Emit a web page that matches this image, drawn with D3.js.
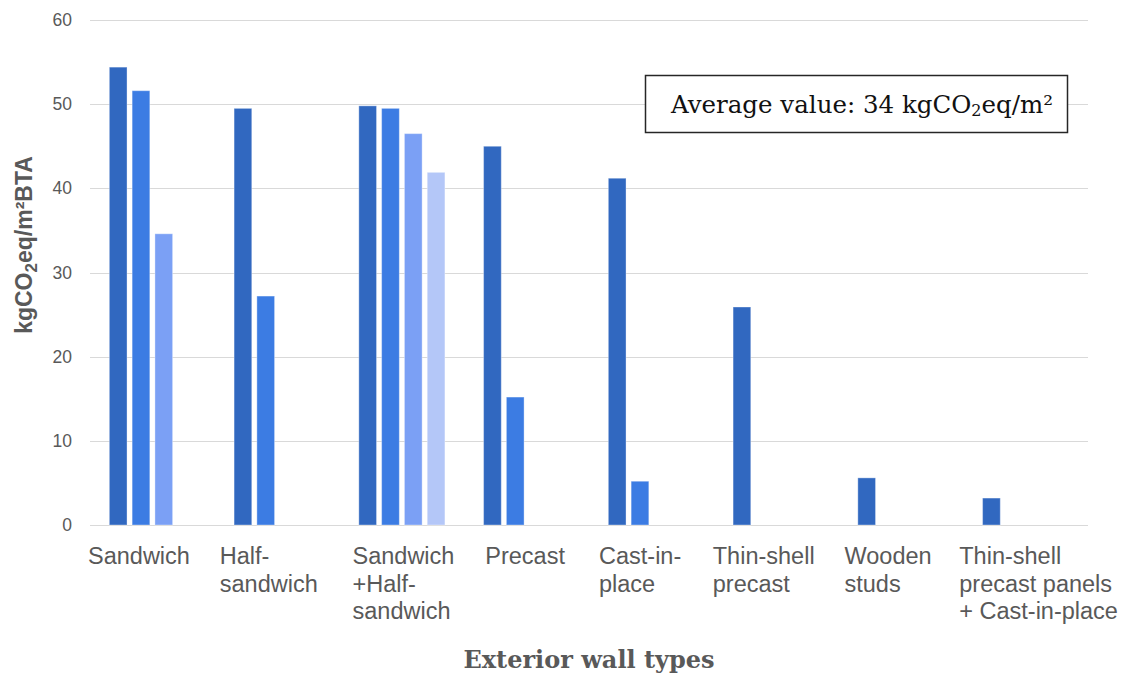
<!DOCTYPE html>
<html>
<head>
<meta charset="utf-8">
<script src="https://cdn.jsdelivr.net/npm/d3@7/dist/d3.min.js"></script>
<style>
  html, body { margin: 0; padding: 0; background: #ffffff; }
  svg { display: block; }
</style>
</head>
<body>
<svg id="chart" width="1125" height="673"></svg>
<script>
// Wall type categories and the text lines used for each axis label
const categories = ["Sandwich", "Half-sandwich", "Sandwich+Half-sandwich", "Precast",
  "Cast-in-place", "Thin-shell precast", "Wooden studs", "Thin-shell precast panels + Cast-in-place"];
const categoryLines = [
  ["Sandwich"],
  ["Half-", "sandwich"],
  ["Sandwich", "+Half-", "sandwich"],
  ["Precast"],
  ["Cast-in-", "place"],
  ["Thin-shell", "precast"],
  ["Wooden", "studs"],
  ["Thin-shell", "precast panels", "+ Cast-in-place"]
];

// Embodied carbon per project, kgCO2eq/m² BTA (null = no project in that slot)
const series1 = [54.4, 49.5, 49.8, 45.0, 41.2, 25.9, 5.6, 3.2];
const series2 = [51.6, 27.2, 49.5, 15.2, 5.2, null, null, null];
const series3 = [34.6, null, 46.5, null, null, null, null, null];
const series4 = [null, null, 41.9, null, null, null, null, null];

const yTicks = [0, 10, 20, 30, 40, 50, 60];
const averageValue = 34;

// ---- layout ----
const W = 1125, H = 673;
const margin = { top: 20, right: 37, bottom: 148, left: 90 };
const seriesColors = ["#3168c0", "#3c7ce3", "#7ba0f5", "#b4c7f8"];
const textGray = "#595959";
// horizontal nudge of each category label from the start of its band
const labelNudge = [-2, 5, 13, 21, 10, -1, 6, -4];

const svg = d3.select("#chart");
const plotW = W - margin.left - margin.right;
const plotH = H - margin.top - margin.bottom;
const g = svg.append("g").attr("transform", `translate(${margin.left},${margin.top})`);

const x0 = d3.scaleBand().domain(categories).range([0, plotW]).paddingInner(0).paddingOuter(0);
const x1 = d3.scaleBand().domain([0, 1, 2, 3]).range([0, x0.bandwidth()])
  .paddingInner(0.224).paddingOuter(0.848);
const y = d3.scaleLinear().domain([0, 60]).range([plotH, 0]);

// gridlines
g.append("g").selectAll("line").data(yTicks).join("line")
  .attr("x1", 0).attr("x2", plotW)
  .attr("y1", d => Math.round(y(d)) + 0.5).attr("y2", d => Math.round(y(d)) + 0.5)
  .attr("stroke", "#d9d9d9").attr("stroke-width", 1);

// y axis tick labels
const yAxis = g.append("g").call(d3.axisLeft(y).tickValues(yTicks).tickSize(0).tickPadding(18));
yAxis.select(".domain").remove();
yAxis.selectAll("text")
  .attr("fill", textGray)
  .style("font-family", "'Liberation Sans', Arial, sans-serif")
  .style("font-size", "17.5px");

// bars
const allSeries = [series1, series2, series3, series4];
const barData = [];
allSeries.forEach((s, si) => s.forEach((v, ci) => {
  if (v !== null) barData.push({ cat: categories[ci], si, v });
}));
g.append("g").selectAll("rect").data(barData).join("rect")
  .attr("x", d => x0(d.cat) + x1(d.si))
  .attr("width", x1.bandwidth())
  .attr("y", d => y(d.v))
  .attr("height", d => y(0) - y(d.v))
  .attr("fill", d => seriesColors[d.si])
  .attr("stroke", "#ffffff").attr("stroke-opacity", 0.35).attr("stroke-width", 1);

// category labels (multi-line, left aligned)
const labels = g.append("g").selectAll("text").data(categories).join("text")
  .attr("x", (d, i) => x0(d) + labelNudge[i])
  .attr("y", plotH + 39)
  .attr("fill", textGray)
  .style("font-family", "'Liberation Sans', Arial, sans-serif")
  .style("font-size", "23.5px");
labels.each(function (d, i) {
  const t = d3.select(this);
  categoryLines[i].forEach((line, li) => {
    t.append("tspan").attr("x", x0(d) + labelNudge[i]).attr("dy", li === 0 ? 0 : 27.5).text(line);
  });
});

// y axis title
const yTitle = svg.append("text")
  .attr("transform", `translate(32,245) rotate(-90)`)
  .attr("text-anchor", "middle")
  .attr("fill", textGray)
  .style("font-family", "'Liberation Sans', Arial, sans-serif")
  .style("font-weight", "bold")
  .style("font-size", "23px");
yTitle.append("tspan").text("kgCO");
yTitle.append("tspan").attr("dy", 5).style("font-size", "17px").text("2");
yTitle.append("tspan").attr("dy", -5).text("eq/m²BTA");

// x axis title
svg.append("text")
  .attr("x", 589).attr("y", 668)
  .attr("text-anchor", "middle")
  .attr("fill", textGray)
  .style("font-family", "'DejaVu Serif', serif")
  .style("font-weight", "bold")
  .style("font-size", "24px")
  .text("Exterior wall types");

// average value note
const note = svg.append("g");
note.append("rect")
  .attr("x", 645.5).attr("y", 75.5).attr("width", 422).attr("height", 57)
  .attr("fill", "#ffffff").attr("stroke", "#262626").attr("stroke-width", 1.5);
const noteText = note.append("text")
  .attr("x", 862).attr("y", 113)
  .attr("text-anchor", "middle")
  .attr("fill", "#111111")
  .style("font-family", "'DejaVu Serif', serif")
  .style("font-size", "24.5px");
noteText.append("tspan").text(`Average value: ${averageValue} kgCO`);
noteText.append("tspan").attr("dy", 3).style("font-size", "16px").text("2");
noteText.append("tspan").attr("dy", -3).text("eq/m²");
</script>
</body>
</html>
